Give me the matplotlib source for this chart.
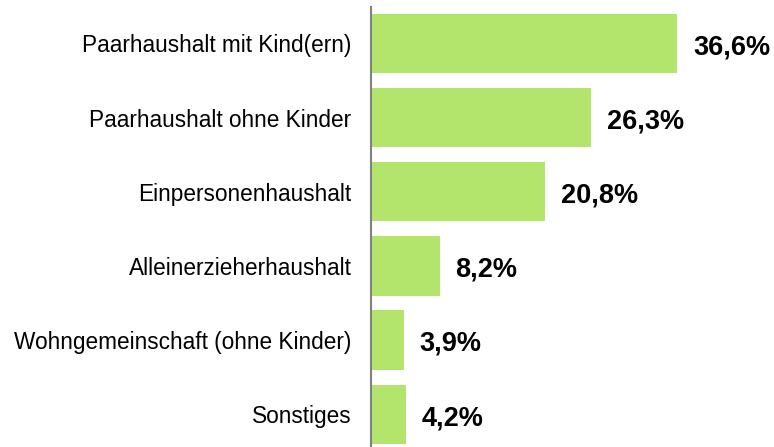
import matplotlib.pyplot as plt

plt.rcParams['font.family'] = ['Liberation Sans', 'DejaVu Sans']

categories = ['Paarhaushalt mit Kind(ern)', 'Paarhaushalt ohne Kinder', 'Einpersonenhaushalt',
              'Alleinerzieherhaushalt', 'Wohngemeinschaft (ohne Kinder)', 'Sonstiges']
values = [36.6, 26.3, 20.8, 8.2, 3.9, 4.2]
value_labels = ['36,6%', '26,3%', '20,8%', '8,2%', '3,9%', '4,2%']

fig = plt.figure(figsize=(7.74, 4.47), dpi=100)
ax = fig.add_axes([371 / 774, 0, 1 - 371 / 774, 1 - 7 / 447])

pos = list(range(len(categories)))
ax.barh(pos, values, height=0.8, color='#b3e56c')
ax.set_ylim(5.44, -0.49)
ax.set_xlim(0, 403 / 8.36)

for p, v, lab in zip(pos, values, value_labels):
    ax.text(v + 1.9, p + 0.05, lab, va='center', ha='left', fontsize=19.5, fontweight='bold')

ax.set_yticks(pos)
ax.set_yticklabels(categories, fontsize=16.3)
ax.tick_params(axis='y', length=0, pad=14)
ax.set_xticks([])
for s in ['top', 'right', 'bottom']:
    ax.spines[s].set_visible(False)
ax.spines['left'].set_color('#808080')
ax.spines['left'].set_linewidth(1.5)

fig.savefig('out.png', dpi=100)
